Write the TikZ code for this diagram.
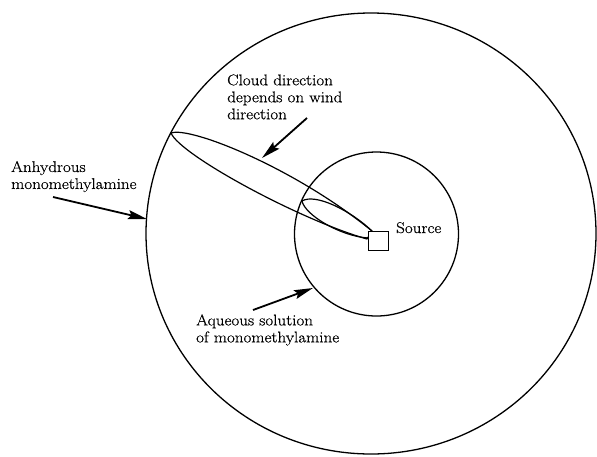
\documentclass[tikz,border=0pt]{standalone}
\usepackage{fontspec}
\setmainfont{Latin Modern Roman}[FakeStretch=1.1, FakeBold=0.6]
\usetikzlibrary{arrows.meta}
\begin{document}
\begin{tikzpicture}[x=1pt,y=-1pt,
  lbl/.style={font=\fontsize{15.5}{17}\selectfont, inner sep=0pt, align=left},
  zone/.style={draw, line width=1.3pt},
  cloud/.style={draw, line width=1.2pt, line join=round},
  pointer/.style={draw, line width=1.8pt, -{Stealth[length=19pt,width=9pt,inset=3pt]}}]
\useasboundingbox (0,0) rectangle (597,456);
% zones
\draw[zone] (371,233.5) ellipse [x radius=225, y radius=220.5];
\draw[zone] (376.5,234) circle [radius=82];
% clouds
\draw[cloud] (171,133) .. controls (190,126) and (295,168) .. (372,231)
   -- (367,239) .. controls (300,220) and (180,155) .. (171,133) -- cycle;
\draw[cloud] (302,201) .. controls (315,193) and (350,210) .. (372,231)
   -- (368,238) .. controls (340,236) and (305,215) .. (302,201) -- cycle;
% source
\node[draw, fill=white, line width=1.2pt, minimum width=20pt, minimum height=19pt, inner sep=0pt] (source) at (378.3,241.2) {};
\node[lbl, anchor=base west] (srclbl) at (396,233) {Source};
% labels
\node[lbl, anchor=north west] (anhy) at (11,160.8) {Anhydrous\\monomethylamine};
\node[lbl, anchor=north west] (cloudlbl) at (227,74.2) {Cloud direction\\depends on wind\\direction};
\node[lbl, anchor=north west] (aq) at (196,314.2) {Aqueous solution\\of monomethylamine};
% arrows
\coordinate (p1s) at (53,197);
\coordinate (p1e) at (147,219);
\coordinate (p2s) at (307,118);
\coordinate (p2e) at (262,158);
\coordinate (p3s) at (253,310);
\coordinate (p3e) at (313,288);
\draw[pointer] (p1s) -- (p1e);
\draw[pointer] (p2s) -- (p2e);
\draw[pointer] (p3s) -- (p3e);
\end{tikzpicture}
\end{document}
